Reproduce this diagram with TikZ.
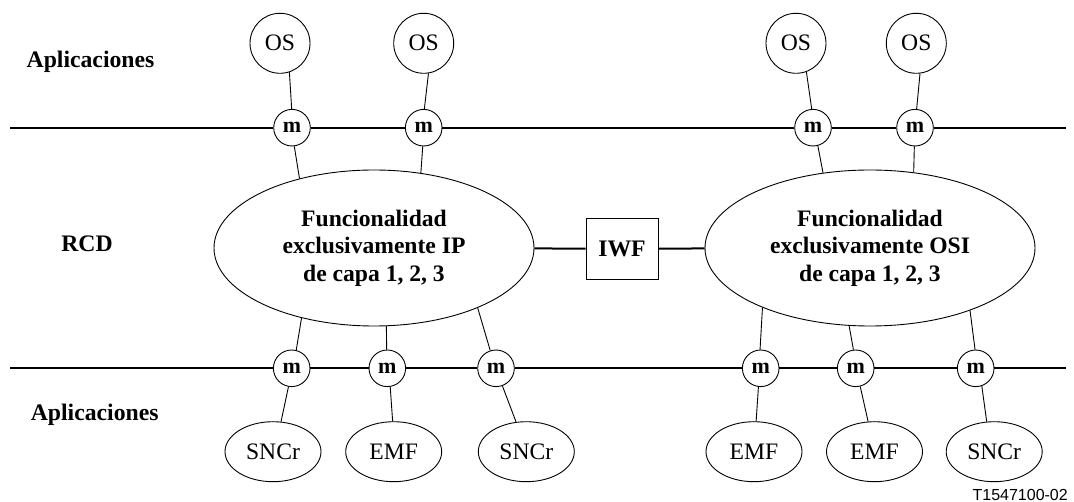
\documentclass[tikz,border=0pt]{standalone}
\usepackage{fontspec}
\setmainfont{Liberation Serif}
\newfontfamily\tagfont{Liberation Sans}
\usetikzlibrary{shapes.geometric}

\begin{document}
\begin{tikzpicture}[x=1pt,y=-1pt,
  every node/.style={font=\fontsize{23.6}{28}\selectfont},
  link/.style={line width=0.9pt},
  bus/.style={line width=2.3pt},
  osnode/.style={circle,draw,line width=0.9pt,minimum size=60pt,inner sep=0pt,fill=white},
  mnode/.style={circle,draw,line width=0.9pt,minimum size=36.6pt,inner sep=0pt,fill=white,
    font=\fontsize{22}{26}\selectfont\bfseries},
  appnode/.style={ellipse,draw,line width=0.9pt,minimum width=96pt,minimum height=60pt,inner sep=0pt},
  core/.style={ellipse,draw,line width=0.9pt,minimum height=156pt,inner sep=0pt,align=center,
    font=\fontsize{23.6}{27.5}\selectfont\bfseries},
  layer/.style={font=\fontsize{23.7}{28}\selectfont\bfseries},
  iwfbox/.style={rectangle,draw,line width=0.9pt,minimum width=72pt,minimum height=61pt,inner sep=0pt,
    font=\fontsize{23.7}{28}\selectfont\bfseries},
]
\useasboundingbox (0,0) rectangle (1074,502);

% layer labels
\node[layer] (aplTop) at (90.5,62.3) {Aplicaciones};
\node[layer] (rcd) at (87,243.3) {RCD};
\node[layer] (aplBot) at (94.7,415) {Aplicaciones};

% operations systems
\node[osnode] (os1) at (280,43.3) {OS};
\node[osnode] (os2) at (423.7,43.3) {OS};
\node[osnode] (os3) at (796,43.3) {OS};
\node[osnode] (os4) at (916.3,43.3) {OS};

% mediation points on the upper bus
\node[mnode] (m1) at (292,127.7) {m};
\node[mnode] (m2) at (423.7,127.7) {m};
\node[mnode] (m3) at (813,127.7) {m};
\node[mnode] (m4) at (915,127.7) {m};

% network cores and interworking function
\node[core,minimum width=320pt] (ip) at (374,248) {Funcionalidad\\exclusivamente IP\\de capa 1, 2, 3};
\node[core,minimum width=330pt] (osi) at (870,248) {Funcionalidad\\exclusivamente OSI\\de capa 1, 2, 3};
\node[iwfbox] (iwf) at (622,248.7) {IWF};

% mediation points on the lower bus
\node[mnode] (m5) at (291.7,368.3) {m};
\node[mnode] (m6) at (387.3,368.3) {m};
\node[mnode] (m7) at (496,368.3) {m};
\node[mnode] (m8) at (760.7,368.3) {m};
\node[mnode] (m9) at (855.7,368.3) {m};
\node[mnode] (m10) at (975.7,368.3) {m};

% network elements
\node[appnode] (e1) at (273,451.7) {SNCr};
\node[appnode] (e2) at (393.7,451.7) {EMF};
\node[appnode] (e3) at (526.3,451.7) {SNCr};
\node[appnode] (e4) at (754,451.7) {EMF};
\node[appnode] (e5) at (874.5,451.7) {EMF};
\node[appnode] (e6) at (994.2,451.7) {SNCr};

\node[font=\tagfont\fontsize{16}{19}\selectfont,anchor=east,inner sep=0pt] (tag) at (1068,495) {T1547100-02};

% bus ends
\coordinate (tl) at (10,127.7);
\coordinate (tr) at (1066,127.7);
\coordinate (bl) at (10,368.3);
\coordinate (br) at (1066,368.3);

% buses
\draw[bus] (tl) -- (m1) -- (m2) -- (m3) -- (m4) -- (tr);
\draw[bus] (bl) -- (m5) -- (m6) -- (m7) -- (m8) -- (m9) -- (m10) -- (br);
\draw[line width=2pt] (ip) -- (iwf) -- (osi);

% upper attachments
\draw[link] (os1.-72.8) -- (m1.91);
\draw[link] (os2.-81.3) -- (m2.88);
\draw[link] (os3.-70.4) -- (m3.94);
\draw[link] (os4.-83) -- (m4.85);
\draw[link] (m1.-83) -- (ip.137.7);
\draw[link] (m2.-93) -- (ip.58.4);
\draw[link] (m3.-75.4) -- (osi.122.9);
\draw[link] (m4.-92) -- (osi.60.8);

% lower attachments
\draw[link] (ip.-136.3) -- (m5.76.8);
\draw[link] (ip.-81.4) -- (m6.92);
\draw[link] (ip.-30.5) -- (m7.108.2);
\draw[link] (osi.-151.2) -- (m8.92);
\draw[link] (osi.-105.6) -- (m9.97.5);
\draw[link] (osi.-32.5) -- (m10.92);
\draw[link] (m5.-100.5) -- (e1.75.1);
\draw[link] (m6.-81.7) -- (e2.92.7);
\draw[link] (m7.-70) -- (e3.109.5);
\draw[link] (m8.-97.4) -- (e4.86.2);
\draw[link] (m9.-76.8) -- (e5.102.8);
\draw[link] (m10.-71.9) -- (e6.104);
\end{tikzpicture}
\end{document}
